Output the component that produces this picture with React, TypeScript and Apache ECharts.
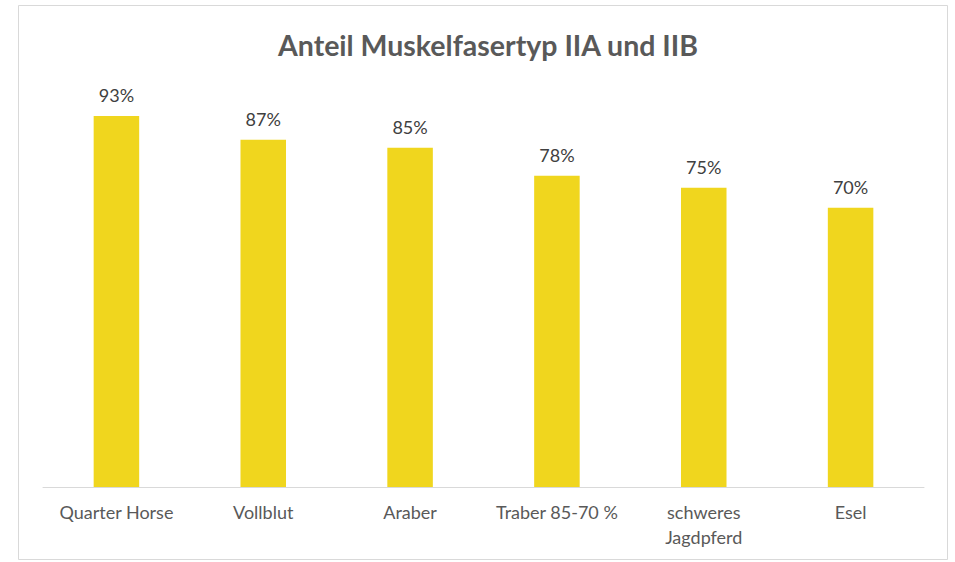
import React, { useEffect, useRef } from "react";
import * as echarts from "echarts";

const categories = ["Quarter Horse", "Vollblut", "Araber", "Traber 85-70 %", "schweres Jagdpferd", "Esel"];
const values = [93, 87, 85, 78, 75, 70];
const titleText = "Anteil Muskelfasertyp IIA und IIB";
const wrappedLabels: Record<string, string> = { "schweres Jagdpferd": "schweres\nJagdpferd" };

export default function App() {
  const ref = useRef<HTMLDivElement>(null);
  useEffect(() => {
    document.body.style.margin = "0";
    const chart = echarts.init(ref.current!, null, { renderer: "svg" });
    chart.setOption({
      animation: false,
      backgroundColor: "#ffffff",
      title: {
        text: titleText,
        left: 483,
        textAlign: "center",
        top: 25,
        textStyle: { fontFamily: "Lato", fontWeight: "bold", fontSize: 28.5, color: "#595959" },
      },
      graphic: [
        {
          type: "rect",
          shape: { x: 18.5, y: 5.5, width: 929, height: 554 },
          style: { fill: "none", stroke: "#d9d9d9", lineWidth: 1 },
          silent: true,
        },
      ],
      grid: { left: 43, right: 31, top: 88, bottom: 75, containLabel: false },
      xAxis: {
        type: "category",
        data: categories,
        axisLine: { show: true, lineStyle: { color: "#d9d9d9", width: 1 } },
        axisTick: { show: false },
        axisLabel: {
          interval: 0,
          margin: 12,
          fontFamily: "Lato",
          fontSize: 18,
          lineHeight: 25,
          color: "#595959",
          formatter: (v: string) => wrappedLabels[v] ?? v,
        },
      },
      yAxis: {
        type: "value",
        min: 0,
        max: 100,
        show: false,
        splitLine: { show: false },
      },
      series: [
        {
          type: "bar",
          data: values,
          barWidth: "31%",
          itemStyle: { color: "#F0D61E" },
          label: {
            show: true,
            position: "top",
            distance: 12,
            formatter: "{c}%",
            fontFamily: "Lato",
            fontSize: 18,
            color: "#404040",
          },
        },
      ],
    });
    return () => chart.dispose();
  }, []);
  return <div ref={ref} style={{ position: "fixed", left: 0, top: 0, width: 955, height: 562 }} />;
}
